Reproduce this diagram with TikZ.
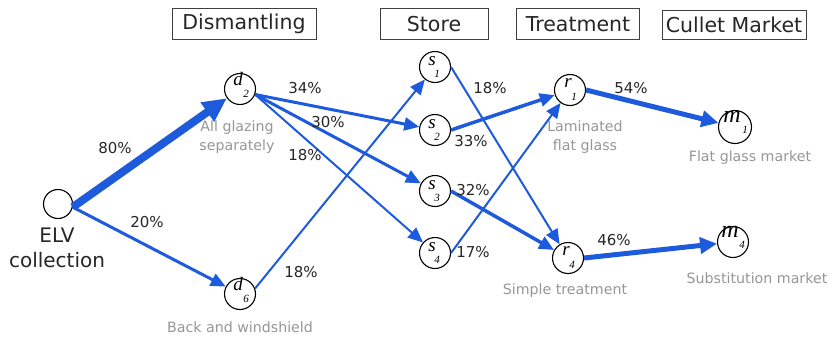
\documentclass[tikz,border=0pt]{standalone}
\usepackage{fontspec}
\setmainfont{DejaVu Sans}
\newfontfamily\tnr{Liberation Serif}
\usetikzlibrary{arrows.meta}
\definecolor{flow}{RGB}{30,90,220}
\definecolor{lblgray}{RGB}{150,150,150}
\begin{document}
\begin{tikzpicture}[x=1pt,y=-1pt,
 st/.style={circle,draw=black,line width=1.1pt,minimum size=31pt,inner sep=0pt},
 hdr/.style={draw=black!75,line width=0.9pt,minimum height=31pt,font=\fontsize{20.5}{22}\selectfont,text=black!85,inner sep=0pt},
 pct/.style={font=\fontsize{15}{16}\selectfont,text=black!85},
 gl/.style={font=\fontsize{14.2}{18.5}\selectfont,text=lblgray,align=center},
 letr/.style={font=\fontsize{19}{19}\selectfont\tnr\itshape,inner sep=0pt},
 subs/.style={font=\fontsize{11}{11}\selectfont\tnr\itshape,inner sep=0pt},
 fl/.style={draw=flow,-{Triangle[length=15pt,width=13pt]}},
]
\useasboundingbox (0,0) rectangle (829,338);

% headers
\node[hdr,minimum width=144pt] (hD) at (244,24) {Dismantling};
\node[hdr,minimum width=108pt] (hS) at (434,24) {Store};
\node[hdr,minimum width=123pt] (hT) at (578,24) {Treatment};
\node[hdr,minimum width=144pt,minimum height=29pt] (hC) at (734,25) {Cullet Market};

% nodes
\node[st,minimum size=29pt] (elv) at (58,204) {};
\node[st] (d2) at (240,89) {};
\node[st] (d6) at (240,294) {};
\node[st] (s1) at (435,67) {};
\node[st] (s2) at (435,130) {};
\node[st] (s3) at (435,191) {};
\node[st] (s4) at (435,253) {};
\node[st] (r1) at (570,90) {};
\node[st] (r4) at (568,258) {};
\node[st,minimum size=33pt] (m1) at (735,127) {};
\node[st] (m4) at (733,242) {};

% letters
\node[letr] (d2a) at (238,79) {d};  \node[subs] (d2b) at (246,94) {2};
\node[letr] (d6a) at (238,284) {d}; \node[subs] (d6b) at (246,299) {6};
\node[letr] (s1a) at (432,61) {s};  \node[subs] (s1b) at (437,74) {1};
\node[letr] (s2a) at (432,124) {s}; \node[subs] (s2b) at (437,137) {2};
\node[letr] (s3a) at (432,185) {s}; \node[subs] (s3b) at (437,198) {3};
\node[letr] (s4a) at (432,247) {s}; \node[subs] (s4b) at (437,260) {4};
\node[letr] (r1a) at (568,83) {r};  \node[subs] (r1b) at (574,97) {1};
\node[letr] (r4a) at (566,251) {r}; \node[subs] (r4b) at (572,265) {4};
\node[letr,font=\fontsize{24}{24}\selectfont\tnr\itshape] (m1a) at (732,117) {m}; \node[subs] (m1b) at (745,130) {1};
\node[letr,font=\fontsize{24}{24}\selectfont\tnr\itshape] (m4a) at (730,232) {m}; \node[subs] (m4b) at (742,245) {4};

% text labels
\node[font=\fontsize{20}{25}\selectfont,text=black!85,align=center] (elvt) at (57,248) {ELV\\collection};
\node[gl] (g1) at (237,137) {All glazing\\separately};
\node[gl] (g2) at (240,327) {Back and windshield};
\node[gl] (g3) at (585,137) {Laminated\\flat glass};
\node[gl] (g4) at (750,158) {Flat glass market};
\node[gl] (g5) at (565,291) {Simple treatment};
\node[gl] (g6) at (757,278) {Substitution market};

% edges
\draw[fl,line width=8pt,-{Triangle[length=24pt,width=22pt]}] (elv.-12) -- (d2);
\draw[fl,line width=3pt] (elv.-12) -- (d6);
\draw[fl,line width=3pt] (d2.-20) -- (s2);
\draw[fl,line width=3pt] (d2.-20) -- (s3);
\draw[fl,line width=2pt] (d2.-20) -- (s4);
\draw[fl,line width=2pt] (d6.20) -- (s1);
\draw[fl,line width=2pt] (s1.east) -- (r4);
\draw[fl,line width=3.5pt] (s2.east) -- (r1);
\draw[fl,line width=3.5pt] (s3.east) -- (r4);
\draw[fl,line width=2pt] (s4.east) -- (r1);
\draw[fl,line width=5pt,-{Triangle[length=17pt,width=16pt]}] (r1.east) -- (m1);
\draw[fl,line width=5pt,-{Triangle[length=17pt,width=16pt]}] (r4.east) -- (m4);

% percentages
\node[pct] (p80) at (115,148) {80\%};
\node[pct] (p20) at (147,222) {20\%};
\node[pct] (p34) at (305,88) {34\%};
\node[pct] (p30) at (328,122) {30\%};
\node[pct] (p18a) at (305,155) {18\%};
\node[pct] (p18b) at (301,272) {18\%};
\node[pct] (p18c) at (490,88) {18\%};
\node[pct] (p33) at (471,141) {33\%};
\node[pct] (p32) at (473,190) {32\%};
\node[pct] (p17) at (473,252) {17\%};
\node[pct] (p54) at (631,88) {54\%};
\node[pct] (p46) at (614,240) {46\%};
\end{tikzpicture}
\end{document}
